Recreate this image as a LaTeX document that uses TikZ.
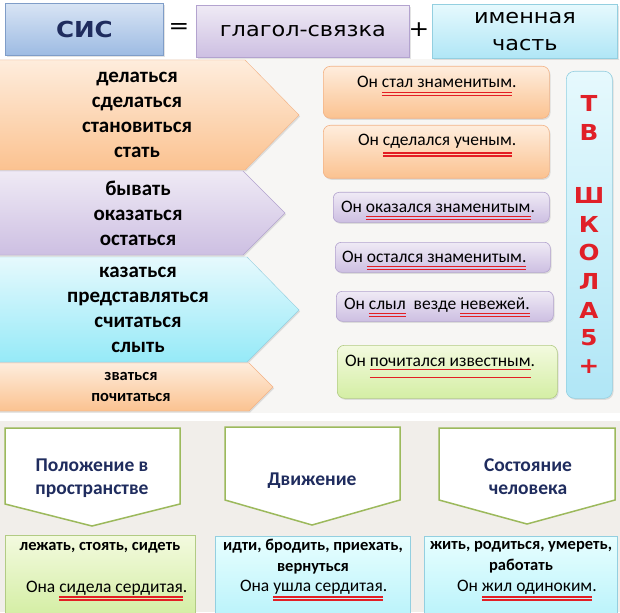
\documentclass[tikz,border=0pt]{standalone}
\usepackage{fontspec}
\setmainfont{Carlito}
\newfontfamily\gothic[FakeStretch=1.12]{DejaVu Sans}
\usetikzlibrary{shadows}

\definecolor{navy}{HTML}{1F2C5E}
\definecolor{ulred}{HTML}{E31E24}
\definecolor{tvred}{HTML}{E02028}
\definecolor{bgtop}{HTML}{F7F6F4}
\definecolor{bgbot}{HTML}{F1EEEA}
\definecolor{olive}{HTML}{9CB95C}
\definecolor{orTop}{HTML}{FEEDDD}
\definecolor{orBot}{HTML}{FBC290}
\definecolor{orLine}{HTML}{F3B386}
\definecolor{lilTop}{HTML}{EFEAF5}
\definecolor{lilBot}{HTML}{CDBFE2}
\definecolor{lilLine}{HTML}{B3A3CF}
\definecolor{aquaTop}{HTML}{E6F9FD}
\definecolor{aquaBot}{HTML}{B0E6F6}
\definecolor{aquaLine}{HTML}{93CFE0}
\definecolor{grTop}{HTML}{F3FADF}
\definecolor{grBot}{HTML}{D4EEA4}
\definecolor{grLine}{HTML}{B2CB84}
\definecolor{blTop}{HTML}{D8E4F4}
\definecolor{blBot}{HTML}{9DBBE3}
\definecolor{blLine}{HTML}{7F9DC8}

% double red underline under a node: name, depth, gap
\newcommand\redlines[3]{%
  \draw[ul] ([yshift=-#2]#1.base west) -- ([yshift=-#2]#1.base east)
    ([yshift=-#2-#3]#1.base west) -- ([yshift=-#2-#3]#1.base east);}

\begin{document}
\begin{tikzpicture}[x=1pt, y=-1pt,
  softshadow/.style={drop shadow={opacity=0.22, shadow xshift=1.2pt, shadow yshift=-1.5pt}},
  topbox/.style={anchor=north west, line width=0.8pt, softshadow, align=center,
    font=\gothic\fontsize{20}{27}\selectfont},
  sbox/.style={anchor=north west, rounded corners=7pt, line width=0.6pt, softshadow},
  orfill/.style={top color=orTop, bottom color=orBot, draw=orLine},
  lilfill/.style={top color=lilTop, bottom color=lilBot, draw=lilLine},
  aquafill/.style={top color=aquaTop, bottom color=aquaBot, draw=aquaLine},
  greenfill/.style={top color=grTop, bottom color=grBot, draw=grLine},
  verb/.style={align=center, font=\bfseries\fontsize{21}{25}\selectfont},
  part/.style={inner sep=0pt, outer sep=0pt, anchor=base west, font=\fontsize{17.5}{21}\selectfont},
  ul/.style={draw=ulred, line width=1.4pt},
  theme/.style={align=center, text=navy, font=\bfseries\fontsize{19.5}{23}\selectfont},
  down/.style={fill=white, draw=olive, line width=1.5pt},
  letter/.style={text=tvred, font=\gothic\bfseries\fontsize{22}{22}\selectfont}]
\useasboundingbox (0,0) rectangle (620,612);
% --- backgrounds ---
\fill[white] (0,0) rectangle (620,612);
\fill[bgtop] (0,59) rectangle (620,413);
\fill[bgbot] (0,421) rectangle (620,612);
% --- formula row ---
\node[topbox, top color=blTop, bottom color=blBot, draw=blLine,
  minimum width=158pt, minimum height=52pt, text=navy,
  font=\gothic\bfseries\fontsize{22}{22}\selectfont] (sis) at (5,3) {СИС};
\node[font=\gothic\fontsize{22}{22}\selectfont] (eq) at (179,29) {=};
\node[topbox, lilfill, minimum width=213pt, minimum height=52pt] (link) at (196,5) {глагол-связка};
\node[font=\gothic\fontsize{22}{22}\selectfont] (plus) at (419,30) {+};
\node[topbox, aquafill, minimum width=185pt, minimum height=54pt] (name) at (432,4) {именная\\часть};
% --- verb groups (arrows to the right) ---
\path[orfill, softshadow] (-2,60) -- (245,60) -- (299,115) -- (245,170) -- (-2,170) -- cycle;
\path[lilfill, softshadow] (-2,171) -- (243,171) -- (285,213) -- (243,255) -- (-2,255) -- cycle;
\path[aquafill, bottom color=aquaBot!85!cyan, softshadow] (-2,257) -- (247,257) -- (299,310) -- (247,362) -- (-2,362) -- cycle;
\path[orfill, softshadow] (-2,363) -- (249,363) -- (273,387) -- (249,411) -- (-2,411) -- cycle;
\node[verb] (g1) at (137,115) {делаться\\сделаться\\становиться\\стать};
\node[verb] (g2) at (138,213) {бывать\\оказаться\\остаться};
\node[verb] (g3) at (138,310) {казаться\\представляться\\считаться\\слыть};
\node[verb, font=\bfseries\fontsize{16.5}{21}\selectfont] (g4) at (131,387) {зваться\\почитаться};
% --- example sentences ---
\node[sbox, orfill, minimum width=226pt, minimum height=52pt] (s1) at (323,66) {};
\node[sbox, orfill, minimum width=226pt, minimum height=53pt] (s2) at (323,125) {};
\node[sbox, lilfill, rounded corners=6pt, minimum width=216pt, minimum height=30pt] (s3) at (333,192) {};
\node[sbox, lilfill, rounded corners=6pt, minimum width=215pt, minimum height=30pt] (s4) at (335,242) {};
\node[sbox, lilfill, rounded corners=6pt, minimum width=217pt, minimum height=30pt] (s5) at (336,291) {};
\node[sbox, greenfill, minimum width=220pt, minimum height=53pt] (s6) at (337,345) {};
\node[part] (t1a) at (357,87.5) {Он\ \mbox{}};
\node[part] (t1b) at (t1a.base east) {стал знаменитым};
\node[part] (t1c) at (t1b.base east) {.};
\redlines{t1b}{5pt}{3pt}
\node[part] (t2a) at (358,146) {Он\ \mbox{}};
\node[part] (t2b) at (t2a.base east) {сделался ученым};
\node[part] (t2c) at (t2b.base east) {.};
\redlines{t2b}{7pt}{3pt}
\node[part] (t3a) at (341,212.5) {Он\ \mbox{}};
\node[part] (t3b) at (t3a.base east) {оказался знаменитым};
\node[part] (t3c) at (t3b.base east) {.};
\redlines{t3b}{4pt}{2.8pt}
\node[part] (t4a) at (342,262.5) {Он\ \mbox{}};
\node[part] (t4b) at (t4a.base east) {остался знаменитым.};
\redlines{t4b}{4pt}{2.8pt}
\node[part] (t5a) at (344,309) {Он\ \mbox{}};
\node[part] (t5b) at (t5a.base east) {слыл};
\node[part] (t5c) at (t5b.base east) {\mbox{}\ \ везде\ \mbox{}};
\node[part] (t5d) at (t5c.base east) {невежей.};
\redlines{t5b}{4.5pt}{2.8pt}
\redlines{t5d}{4.5pt}{2.8pt}
\node[part] (t6a) at (345,366.5) {Он\ \mbox{}};
\node[part] (t6b) at (t6a.base east) {почитался известным};
\node[part] (t6c) at (t6b.base east) {.};
\redlines{t6b}{3pt}{8pt}
% --- side strip ---
\node[sbox, aquafill, rounded corners=8pt, minimum width=46pt, minimum height=327pt] (tv) at (566,71) {};
\foreach \ch/\yy [count=\i] in {Т/103, В/132, Ш/195, К/224, О/252, Л/281, А/310, 5/338, +/367}
  \node[letter] (tv\i) at (589,\yy) {\ch};
% --- bottom: three groups of verbs ---
\path[down] (5,428) -- (180,428) -- (180,504) -- (92,526) -- (5,504) -- cycle;
\path[down] (225,427) -- (400,427) -- (400,500) -- (312,525) -- (225,500) -- cycle;
\path[down] (439,428) -- (615,428) -- (615,500) -- (527,524) -- (439,500) -- cycle;
\node[theme] (place) at (92,478) {Положение в\\пространстве};
\node[theme] (move) at (312,481) {Движение};
\node[theme] (state) at (528,477) {Состояние\\человека};
\node[anchor=north west, greenfill, line width=0.6pt, minimum width=190pt, minimum height=80pt] (b1) at (5,535) {};
\node[anchor=north west, top color=aquaTop!60!cyan!20, bottom color=aquaBot!80!cyan!60, draw=aquaLine,
  line width=0.6pt, minimum width=195pt, minimum height=80pt] (b2) at (215,536) {};
\node[anchor=north west, top color=aquaTop!60!cyan!20, bottom color=aquaBot!80!cyan!60, draw=aquaLine,
  line width=0.6pt, minimum width=193pt, minimum height=80pt] (b3) at (424,536) {};
\node[verb, font=\bfseries\fontsize{16.5}{21}\selectfont] (v1) at (100,548) {лежать, стоять, сидеть};
\node[verb, font=\bfseries\fontsize{16.5}{21}\selectfont] (v2) at (313,557) {идти, бродить, приехать,\\вернуться};
\node[verb, font=\bfseries\fontsize{16.5}{21}\selectfont] (v3) at (521,557) {жить, родиться, умереть,\\работать};
\node[part] (e1a) at (26,592) {Она\ \mbox{}};
\node[part] (e1b) at (e1a.base east) {сидела сердитая};
\node[part] (e1c) at (e1b.base east) {.};
\redlines{e1b}{5pt}{3pt}
\node[part] (e2a) at (240,591) {Она\ \mbox{}};
\node[part] (e2b) at (e2a.base east) {ушла сердитая};
\node[part] (e2c) at (e2b.base east) {.};
\redlines{e2b}{6pt}{3pt}
\node[part] (e3a) at (457,591) {Он\ \mbox{}};
\node[part] (e3b) at (e3a.base east) {жил одиноким};
\node[part] (e3c) at (e3b.base east) {.};
\redlines{e3b}{6pt}{3pt}
\end{tikzpicture}
\end{document}
